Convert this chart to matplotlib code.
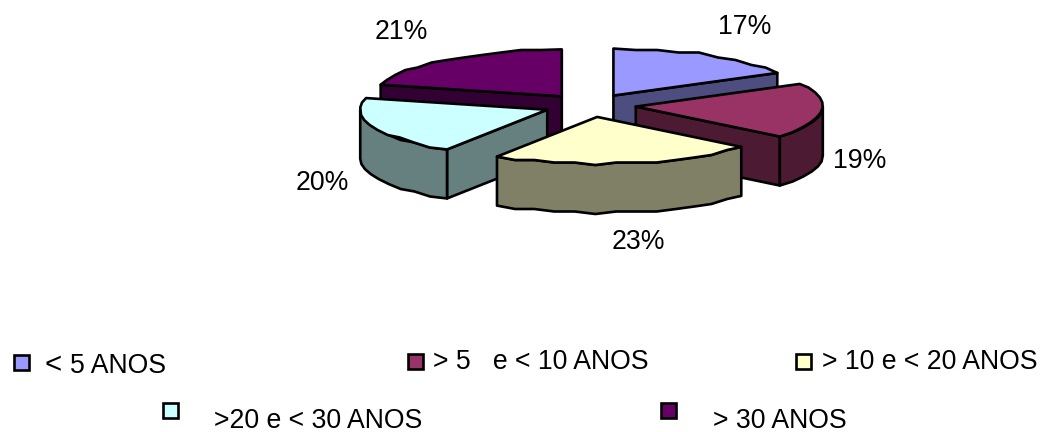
"""Exploded 3D-style pie of years-of-service bands, drawn with plain polygons."""

import matplotlib
matplotlib.use("Agg")
import matplotlib.pyplot as plt
import numpy as np
from matplotlib.patches import Polygon, Rectangle

plt.rcParams["font.family"] = ["Liberation Sans", "DejaVu Sans"]

VALUES = [17, 19, 23, 20, 21]
CATEGORIES = ["< 5 ANOS", "> 5   e < 10 ANOS", "> 10 e < 20 ANOS", ">20 e < 30 ANOS", "> 30 ANOS"]
TOP_COLORS = ["#9999FF", "#993366", "#FFFFCC", "#CCFFFF", "#660066"]
SIDE_COLORS = ["#4D4D80", "#4D1A33", "#808066", "#668080", "#330033"]

# pie geometry, in pixels
CX, CY = 590.0, 105.5
RX, RY = 187.0, 47.0
DEPTH = 49.0
EXPLODE = 46.0
STEP = 6.5  # coarse rim sampling gives the faceted outline
SNAP = 2.5  # rim vertices sit on a rough grid, so the curve wobbles a little
LW = 1.9
FONT = 19.2

# back slices first so the front ones overlap them
DRAW_ORDER = [4, 0, 1, 3, 2]


def rim(apex, t0, t1):
    n = max(int(round((t1 - t0) / STEP)), 1)
    t = np.radians(np.linspace(t0, t1, n + 1))
    pts = np.column_stack([apex[0] + RX * np.sin(t), apex[1] - RY * np.cos(t)])
    inner = pts[1:-1]
    inner[:, 1] = np.round(inner[:, 1] / SNAP) * SNAP
    return pts


def add_poly(ax, pts, color):
    ax.add_patch(Polygon(pts, closed=True, facecolor=color, edgecolor="black",
                         linewidth=LW, joinstyle="round"))


def draw_slice(ax, t0, t1, top, side):
    mid = np.radians((t0 + t1) / 2)
    apex = (CX + EXPLODE * np.sin(mid), CY - EXPLODE * RY / RX * np.cos(mid))
    drop = np.array([0, DEPTH])

    # cut faces that turn towards the viewer
    for t, visible in ((t0, np.sin(np.radians(t0)) < -1e-6), (t1, np.sin(np.radians(t1)) > 1e-6)):
        if visible:
            edge = np.array([apex, rim(apex, t, t)[0]])
            add_poly(ax, np.vstack([edge, edge[::-1] + drop]), side)

    # outer wall, only the front half of the ellipse
    a, b = max(t0, 90), min(t1, 270)
    if a < b:
        outer = rim(apex, a, b)
        add_poly(ax, np.vstack([outer, outer[::-1] + drop]), side)

    add_poly(ax, np.vstack([[apex], rim(apex, t0, t1)]), top)


fig = plt.figure(figsize=(10.41, 4.32), dpi=100)
ax = fig.add_axes([0, 0, 1, 1])
ax.set_xlim(0, 1041)
ax.set_ylim(432, 0)
ax.axis("off")

shares = np.array(VALUES) / sum(VALUES) * 360
edges = np.concatenate([[0], np.cumsum(shares)])
for i in DRAW_ORDER:
    draw_slice(ax, edges[i], edges[i + 1], TOP_COLORS[i], SIDE_COLORS[i])

# percentage labels
pct_pos = [(745, 34), (860, 168), (638, 249), (322, 190), (401, 39)]
for v, (x, y) in zip(VALUES, pct_pos):
    ax.text(x, y, f"{v}%", ha="center", va="baseline", fontsize=FONT)

# hand-placed legend, two staggered rows
swatches = [(14, 355), (408, 354), (796, 354), (163, 403), (661, 403)]
text_pos = [(44, 373), (433, 369), (822, 369), (214, 428), (713, 428)]
for i, name in enumerate(CATEGORIES):
    ax.add_patch(Rectangle(swatches[i], 15, 15, facecolor=TOP_COLORS[i],
                           edgecolor="black", linewidth=LW))
    x, y = text_pos[i]
    if i == 0:
        # first entry has a wider gap and a heavier "<"
        sign, rest = name.split(" ", 1)
        ax.text(x, y, sign, ha="left", va="baseline", fontsize=FONT + 2)
        ax.text(x + 26, y, rest, ha="left", va="baseline", fontsize=FONT)
    else:
        ax.text(x, y, name, ha="left", va="baseline", fontsize=FONT)

fig.savefig("out.png", dpi=100)
